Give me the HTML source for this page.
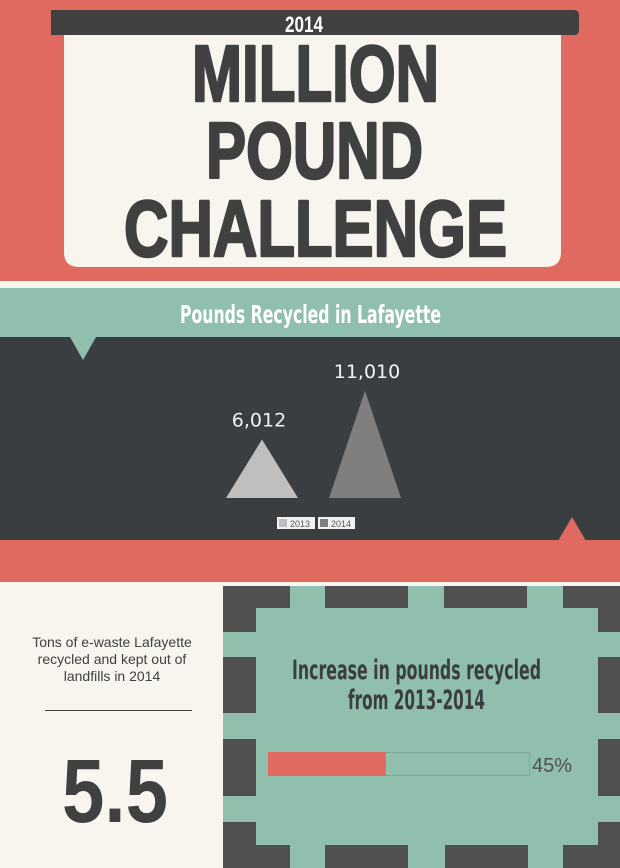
<!DOCTYPE html>
<html><head><meta charset="utf-8"><style>
html,body{margin:0;padding:0;width:620px;height:868px;overflow:hidden;background:#f7f5ee}
svg{display:block}
</style></head><body>
<svg width="620" height="868" viewBox="0 0 620 868" xmlns="http://www.w3.org/2000/svg">
  <rect x="0" y="0" width="620" height="281" fill="#e06a5f"/>
  <path d="M64 35 H561 V252 Q561 267 546 267 H79 Q64 267 64 252 Z" fill="#f7f5ee"/>
  <path d="M51 10 H574 Q579 10 579 15 V30 Q579 35 574 35 H51 Z" fill="#404040"/>
  <text x="304" y="32" text-anchor="middle" font-family="Liberation Sans, sans-serif" font-weight="bold" font-size="22" fill="#fff" textLength="38" lengthAdjust="spacingAndGlyphs">2014</text>
  <g font-family="Liberation Sans, sans-serif" font-weight="bold" font-size="80" fill="#404040" stroke="#404040" stroke-width="2.5" stroke-linejoin="round">
    <text x="192" y="101" textLength="247" lengthAdjust="spacingAndGlyphs">MILLION</text>
    <text x="206" y="178" textLength="217" lengthAdjust="spacingAndGlyphs">POUND</text>
    <text x="124" y="256" textLength="383" lengthAdjust="spacingAndGlyphs">CHALLENGE</text>
  </g>

  <rect x="0" y="288" width="620" height="50" fill="#90bfae"/>
  <text x="180" y="323" font-family="DejaVu Sans Condensed, Liberation Sans, sans-serif" font-weight="bold" font-size="25" fill="#fff" textLength="261" lengthAdjust="spacingAndGlyphs">Pounds Recycled in Lafayette</text>
  <rect x="0" y="337" width="620" height="204" fill="#3b3e41"/>
  <polygon points="70,337 96,337 83,360" fill="#90bfae"/>
  <rect x="0" y="540" width="620" height="42" fill="#e06a5f"/>
  <polygon points="558,541 586,541 572,517" fill="#e06a5f"/>

  <g id="chart"></g>

  <g font-family="Liberation Sans, sans-serif" font-size="10">
    <g>
      <rect x="277" y="517" width="38" height="12" fill="#f2f2f2"/>
      <rect x="279" y="519" width="8" height="8" fill="#bfbfbf"/>
      <text x="290" y="527" fill="#555" font-size="9">2013</text>
    </g>
    <g>
      <rect x="318" y="517" width="37" height="12" fill="#f2f2f2"/>
      <rect x="320" y="519" width="8" height="8" fill="#7f7f7f"/>
      <text x="331" y="527" fill="#555" font-size="9">2014</text>
    </g>
  </g>

  <g font-family="Liberation Sans, sans-serif" font-size="14" fill="#404040" text-anchor="middle">
    <text x="112" y="647">Tons of e-waste Lafayette</text>
    <text x="112" y="664">recycled and kept out of</text>
    <text x="112" y="681">landfills in 2014</text>
  </g>
  <line x1="45" y1="710.5" x2="192" y2="710.5" stroke="#404040" stroke-width="1"/>
  <text x="62" y="822" font-family="Liberation Sans, sans-serif" font-weight="bold" font-size="90" fill="#404040" textLength="106" lengthAdjust="spacingAndGlyphs">5.5</text>

  <g>
    <rect x="223" y="586" width="397" height="282" fill="#90bfae"/>
    <g fill="#505050">
      <rect x="223" y="586" width="67" height="22"/><rect x="223" y="586" width="33" height="46"/>
      <rect x="325" y="586" width="83" height="22"/><rect x="444" y="586" width="83" height="22"/>
      <rect x="563" y="586" width="57" height="22"/><rect x="598" y="586" width="22" height="46"/>
      <rect x="223" y="657" width="33" height="56"/><rect x="223" y="739" width="33" height="57"/>
      <rect x="598" y="657" width="22" height="56"/><rect x="598" y="739" width="22" height="57"/>
      <rect x="223" y="822" width="33" height="46"/><rect x="223" y="845" width="67" height="23"/>
      <rect x="325" y="845" width="83" height="23"/><rect x="445" y="845" width="83" height="23"/>
      <rect x="563" y="845" width="57" height="23"/><rect x="598" y="822" width="22" height="46"/>
    </g>
    <g font-family="DejaVu Sans Condensed, Liberation Sans, sans-serif" font-weight="bold" font-size="27" fill="#3b3e41">
      <text x="292" y="679" textLength="249" lengthAdjust="spacingAndGlyphs">Increase in pounds recycled</text>
      <text x="348" y="709" textLength="137" lengthAdjust="spacingAndGlyphs">from 2013-2014</text>
    </g>
    <rect x="268.5" y="752.5" width="261" height="23" fill="none" stroke="#7fa898" stroke-width="1"/>
    <rect id="progFill" x="268" y="752" width="118" height="24" fill="#e06a5f"/>
    <text id="progLabel" x="532" y="772" font-family="Liberation Sans, sans-serif" font-size="20" fill="#505050">45%</text>
  </g>
</svg>
<script>
const categories = ["2013", "2014"];
const values = [6012, 11010];
const valueLabels = ["6,012", "11,010"];
const colors = ["#bfbfbf", "#7f7f7f"];
const progressValues = [45];

const NS = "http://www.w3.org/2000/svg";
const baseY = 498;
const pxPerUnit = 0.00973;
function yScale(v){ return baseY - v * pxPerUnit; }
function xCenter(i){ return 262 + i * 103; }
const halfW = 36;
const g = document.getElementById('chart');
categories.forEach(function(c, i){
  const cx = xCenter(i), top = yScale(values[i]);
  const p = document.createElementNS(NS, 'polygon');
  p.setAttribute('points', (cx-halfW)+','+baseY+' '+(cx+halfW)+','+baseY+' '+cx+','+top);
  p.setAttribute('fill', colors[i]);
  
  
  g.appendChild(p);
  const t = document.createElementNS(NS, 'text');
  t.setAttribute('x', cx - 3 + i * 5);
  t.setAttribute('y', top - 13);
  t.setAttribute('text-anchor', 'middle');
  t.setAttribute('font-family', 'DejaVu Sans, Liberation Sans, sans-serif');
  t.setAttribute('font-size', '19');
  t.setAttribute('fill', '#f2f2f2');
  t.textContent = valueLabels[i];
  
  
  g.appendChild(t);
});
const trackX = 268, trackW = 262;
document.getElementById('progFill').setAttribute('width', trackW * progressValues[0] / 100);
document.getElementById('progLabel').textContent = progressValues[0] + '%';
</script>
</body></html>
